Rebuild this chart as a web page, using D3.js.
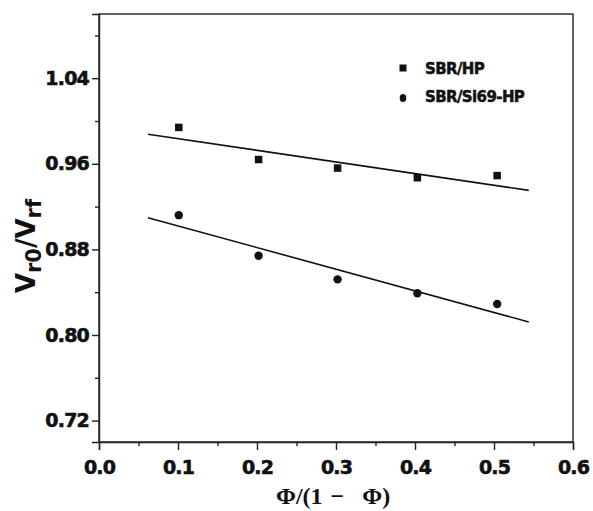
<!DOCTYPE html>
<html>
<head>
<meta charset="utf-8">
<script src="https://cdn.jsdelivr.net/npm/d3@7"></script>
<style>
  body { margin: 0; background: #fff; }
  .tick text { font-family: "DejaVu Sans", sans-serif; font-weight: bold; font-size: 19px; fill: #111; stroke: #111; stroke-width: 0.6px; letter-spacing: -0.8px; }
  .axis path, .axis line { stroke: #222; stroke-width: 1.4px; }
</style>
</head>
<body>
<svg id="chart" width="593" height="511"></svg>
<script>
// values
var xVals = [0.101, 0.202, 0.302, 0.403, 0.504];
var hpVals = [0.994, 0.964, 0.956, 0.947, 0.949];      // SBR/HP (squares)
var si69Vals = [0.912, 0.874, 0.852, 0.839, 0.829];    // SBR/Si69-HP (circles)
// linear fit lines, end points
var hpFit = [[0.062, 0.9876], [0.544, 0.9352]];
var si69Fit = [[0.062, 0.9096], [0.544, 0.8122]];

var xMajor = [0.0, 0.1, 0.2, 0.3, 0.4, 0.5, 0.6];
var xMinor = [0.05, 0.15, 0.25, 0.35, 0.45, 0.55];
var yMajor = [0.72, 0.80, 0.88, 0.96, 1.04];
var yMinor = [0.76, 0.84, 0.92, 1.00, 1.08];
var legendNames = ["SBR/HP", "SBR/Si69-HP"];

function drawChart() {
  var W = 593, H = 511;
  var margin = {top: 14, right: 20, bottom: 69, left: 99};
  var w = W - margin.left - margin.right,
    h = H - margin.top - margin.bottom;

  var svg = d3.select("#chart");
  var g = svg.append("g")
    .attr("transform", "translate(" + margin.left + "," + margin.top + ")");

  var x = d3.scaleLinear().domain([0, 0.6]).range([0, w]);
  var y = d3.scaleLinear().domain([0.70, 1.10]).range([h, 0]);

  // frame
  g.append("rect")
    .attr("width", w).attr("height", h)
    .attr("fill", "none").attr("stroke", "#222").attr("stroke-width", 1.4);

  // minor ticks
  g.append("g").attr("class", "axis")
    .attr("transform", "translate(0," + h + ")")
    .call(d3.axisBottom(x).tickValues(xMinor).tickSize(4).tickFormat(""))
    .select(".domain").remove();
  g.append("g").attr("class", "axis")
    .call(d3.axisLeft(y).tickValues(yMinor).tickSize(4).tickFormat(""))
    .select(".domain").remove();

  // major ticks
  g.append("g").attr("class", "axis")
    .attr("transform", "translate(0," + h + ")")
    .call(d3.axisBottom(x).tickValues(xMajor).tickSize(8).tickPadding(11).tickFormat(d3.format(".1f")));
  g.append("g").attr("class", "axis")
    .call(d3.axisLeft(y).tickValues(yMajor).tickSize(7).tickPadding(3).tickFormat(d3.format(".2f")));

  // fit lines
  var line = d3.line().x(function(d) { return x(d[0]); }).y(function(d) { return y(d[1]); });
  [hpFit, si69Fit].forEach(function(f) {
    g.append("path").attr("d", line(f))
      .attr("fill", "none").attr("stroke", "#111").attr("stroke-width", 1.6);
  });

  // squares
  var sq = 7.5;
  g.selectAll(".sq").data(xVals).enter().append("rect")
    .attr("class", "sq")
    .attr("x", function(d) { return x(d) - sq / 2; })
    .attr("y", function(d, i) { return y(hpVals[i]) - sq / 2; })
    .attr("width", sq).attr("height", sq)
    .attr("fill", "#111");

  // circles
  g.selectAll(".dot").data(xVals).enter().append("circle")
    .attr("class", "dot")
    .attr("cx", function(d) { return x(d); })
    .attr("cy", function(d, i) { return y(si69Vals[i]); })
    .attr("r", 4.2)
    .attr("fill", "#111");

  // legend
  var lg = svg.append("g").attr("transform", "translate(403,0)");
  lg.append("rect").attr("x", -3.5).attr("y", 64.5).attr("width", 7).attr("height", 7).attr("fill", "#111");
  lg.append("ellipse").attr("cx", 0).attr("cy", 98).attr("rx", 3.3).attr("ry", 4).attr("fill", "#111");
  lg.selectAll("text").data(legendNames).enter().append("text")
    .attr("x", 22)
    .attr("y", function(d, i) { return i === 0 ? 74 : 102; })
    .style("font-family", "'DejaVu Sans', sans-serif")
    .style("font-weight", "bold")
    .style("font-size", "15px")
    .style("letter-spacing", "-0.6px")
    .attr("fill", "#111")
    .attr("stroke", "#111")
    .attr("stroke-width", 0.5)
    .text(function(d) { return d; });

  // y label
  var yl = svg.append("text")
    .attr("transform", "translate(35,246) rotate(-90)")
    .attr("text-anchor", "middle")
    .style("font-family", "'DejaVu Sans', sans-serif")
    .style("font-weight", "bold")
    .style("font-size", "26px")
    .attr("fill", "#111");
  yl.append("tspan").text("V");
  yl.append("tspan").attr("dy", 6).style("font-size", "21px").text("r0");
  yl.append("tspan").attr("dy", -6).text("/V");
  yl.append("tspan").attr("dy", 6).style("font-size", "21px").text("rf");

  // x label
  var xl = svg.append("text")
    .attr("x", 276).attr("y", 504)
    .style("font-family", "'Liberation Serif', serif")
    .style("font-weight", "bold")
    .style("font-size", "24px")
    .attr("fill", "#111");
  xl.append("tspan").text("\u03A6/(1");
  xl.append("tspan").attr("dx", 8).text("\u2212");
  xl.append("tspan").attr("dx", 18).text("\u03A6)");
}

drawChart();
</script>
</body>
</html>
